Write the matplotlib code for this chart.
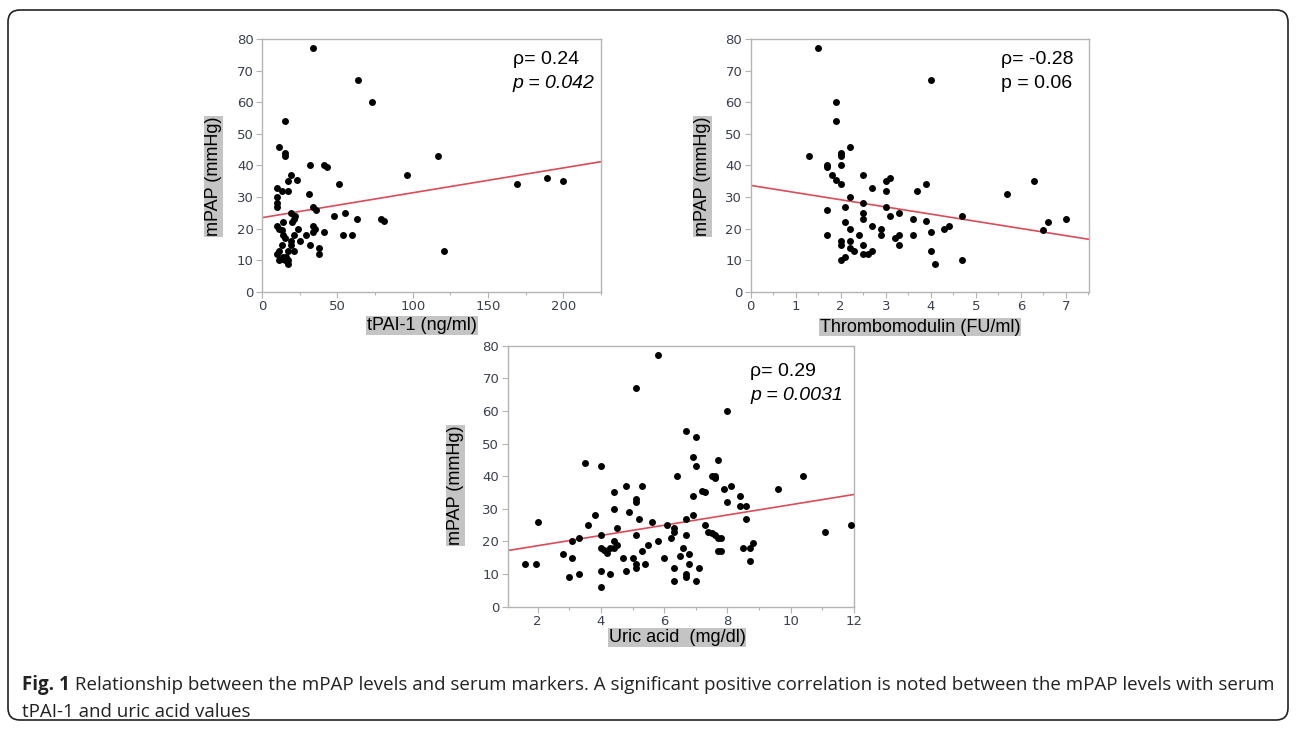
import numpy as np
import matplotlib
matplotlib.use('Agg')
import matplotlib.pyplot as plt
from matplotlib.patches import FancyBboxPatch
from matplotlib.ticker import MultipleLocator

# ---- Data ----

tpai_x = [34, 64, 73, 15, 11, 15, 15, 32, 41, 43, 19, 17, 23, 10, 13, 17, 10, 10, 10,
          31, 34, 36, 19, 22, 21, 20, 14, 10, 11, 13, 14, 15, 21, 24, 19, 19, 25, 29,
          34, 35, 34, 41, 32, 38, 38, 13, 17, 21, 10, 11, 11, 14, 15, 17, 17, 13, 16,
          48, 51, 55, 54, 60, 63, 79, 81, 96, 117, 121, 169, 189, 200]
tpai_y = [77, 67, 60, 54, 46, 44, 43, 40, 40, 39.5, 37, 35, 35.5, 33, 32, 32, 30, 28, 27,
          31, 27, 26, 25, 24, 23, 22, 22, 21, 20, 19.5, 18, 17, 18, 20, 16, 15, 16, 18,
          21, 20, 19, 19, 15, 14, 12, 15, 13, 13, 12, 13, 10, 11, 10, 10, 9, 10.5, 11,
          24, 34, 25, 18, 18, 23, 23, 22.5, 37, 43, 13, 34, 36, 35]

tm_x = [1.5, 4.0, 1.9, 1.9, 2.2, 1.3, 2.0, 2.0, 2.0, 1.7, 1.7, 2.0, 1.8, 1.9, 2.0, 1.7,
        1.7, 2.2, 2.1, 2.1, 2.2, 2.0, 2.0, 2.2, 2.2, 2.3, 2.0, 2.1, 2.5, 2.5, 2.5, 2.5,
        2.4, 2.5, 2.5, 2.6, 2.7, 2.7, 2.7, 2.9, 2.9, 3.0, 3.1, 3.0, 3.0, 3.1, 3.2, 3.3,
        3.3, 3.3, 3.6, 3.6, 3.7, 3.9, 3.9, 4.0, 4.0, 4.1, 4.3, 4.4, 4.7, 4.7, 5.7, 6.3,
        6.5, 6.6, 7.0]
tm_y = [77, 67, 60, 54, 46, 43, 44, 43.5, 43, 40, 39.5, 40, 37, 35.5, 34, 26,
        18, 30, 27, 22, 20, 16, 15, 16, 14, 13, 10, 11, 37, 28, 25, 23,
        18, 15, 12, 12, 13, 33, 21, 20, 18, 35, 36, 32, 27, 24, 17, 25,
        18, 15, 23, 18, 32, 34, 22.5, 19, 13, 9, 20, 21, 24, 10, 31, 35,
        19.5, 22, 23]

ua_x = [1.6, 1.95, 2.0, 2.8, 3.0, 3.1, 3.1, 3.3, 3.3, 3.5, 3.6, 3.8, 4.0, 4.0, 4.0, 4.1,
        4.2, 4.0, 4.0, 4.3, 4.4, 4.4, 4.4, 4.5, 4.3, 4.4, 4.5, 4.7, 4.8, 4.9, 4.8, 5.0,
        5.1, 5.1, 5.1, 5.1, 5.1, 5.1, 5.2, 5.3, 5.3, 5.4, 5.5, 5.6, 5.8, 5.8, 6.0, 6.1,
        6.2, 6.3, 6.3, 6.3, 6.3, 6.4, 6.5, 6.6, 6.7, 6.7, 6.7, 6.7, 6.7, 6.8, 6.8, 6.9,
        6.9, 6.9, 7.0, 7.0, 7.0, 7.1, 7.2, 7.3, 7.3, 7.4, 7.5, 7.5, 7.6, 7.6, 7.6, 7.7,
        7.8, 7.7, 7.8, 7.7, 7.9, 8.0, 8.0, 8.1, 8.4, 8.4, 8.5, 8.6, 8.6, 8.7, 8.8, 8.7,
        9.6, 10.4, 11.1, 11.9]
ua_y = [13, 13.2, 26, 16, 9, 20, 15, 21, 10, 44, 25, 28, 43, 22, 18, 17.4,
        16.3, 11, 6, 10, 35, 30, 20, 19, 18, 18, 24, 15, 37, 29, 11, 15,
        67, 33, 32, 22, 13, 12, 27, 37, 17, 13, 19, 26, 77, 20, 15, 25,
        21, 24, 23, 12, 8, 40, 15.5, 18, 54, 27, 22, 10, 9, 16, 13, 46,
        34, 28, 52, 43, 8, 12, 35.5, 35, 25, 23, 22.5, 40, 40, 39.5, 22, 21,
        21, 17, 17, 45, 36, 60, 32, 37, 34, 31, 18, 31, 27, 18, 19.5, 14,
        36, 40, 23, 25]

# fitted lines as drawn in the figure (intercept, slope)
tpai_fit = (23.5, 0.0787)
tm_fit = (33.7, -2.27)
ua_fit = (15.55, 1.57)

panels = [
    dict(x=tpai_x, y=tpai_y, fit=tpai_fit, xlabel='tPAI-1 (ng/ml)',
         rho='ρ= 0.24', pval='p = 0.042', pstyle='italic',
         rect=[0.2022, 0.5995, 0.2616, 0.347], xlim=(0, 225),
         xmajor=50, xminor=25, xlab_pos=(0.472, -0.099), ylab_pos=(-0.118, 0.456),
         txt_x=0.74, txt_y=(0.917, 0.826)),
    dict(x=tm_x, y=tm_y, fit=tm_fit, xlabel='Thrombomodulin (FU/ml)',
         rho='ρ= -0.28', pval='p = 0.06', pstyle='normal',
         rect=[0.5792, 0.5995, 0.2613, 0.347], xlim=(0, 7.52),
         xmajor=1, xminor=0.5, xlab_pos=(0.5, -0.105), ylab_pos=(-0.118, 0.456),
         txt_x=0.739, txt_y=(0.917, 0.826)),
    dict(x=ua_x, y=ua_y, fit=ua_fit, xlabel='Uric acid  (mg/dl)',
         rho='ρ= 0.29', pval='p = 0.0031', pstyle='italic',
         rect=[0.3917, 0.1678, 0.2672, 0.358], xlim=(1.05, 12),
         xmajor=2, xminor=1, xlab_pos=(0.489, -0.087), ylab_pos=(-0.125, 0.464),
         txt_x=0.70, txt_y=(0.90, 0.811)),
]

plt.rcParams['font.family'] = ['Liberation Sans', 'DejaVu Sans']

fig = plt.figure(figsize=(12.96, 7.29), dpi=100)

# rounded frame around the whole figure
bg = fig.add_axes([0, 0, 1, 1])
bg.set_xlim(0, 1296)
bg.set_ylim(729, 0)
bg.axis('off')
bg.add_patch(FancyBboxPatch((8, 10), 1280, 710,
                            boxstyle='round,pad=0,rounding_size=12',
                            facecolor='white', edgecolor='#222222', linewidth=1.2))

spine_col = '#b4b4b4'
tick_col = '#3a4050'
label_box = dict(facecolor='#c4c4c4', edgecolor='none', pad=0.6)

for p in panels:
    ax = fig.add_axes(p['rect'])
    ax.scatter(p['x'], p['y'], s=25, color='black', zorder=3, linewidths=0)
    xs = np.array(p['xlim'])
    ax.plot(xs, p['fit'][0] + p['fit'][1] * xs, color='#dc4b58', linewidth=1.2, zorder=2)

    ax.set_xlim(*p['xlim'])
    ax.set_ylim(0, 80)
    ax.xaxis.set_major_locator(MultipleLocator(p['xmajor']))
    ax.xaxis.set_minor_locator(MultipleLocator(p['xminor']))
    ax.yaxis.set_major_locator(MultipleLocator(10))
    for s in ax.spines.values():
        s.set_color(spine_col)
        s.set_linewidth(1.0)
    ax.tick_params(which='major', direction='out', length=4, width=0.8,
                   color=spine_col, labelcolor=tick_col, labelsize=9.5, pad=2,
                   labelfontfamily='DejaVu Sans')
    ax.tick_params(which='minor', direction='out', length=2.5, width=0.8, color=spine_col)

    ax.set_ylabel('mPAP (mmHg)', fontsize=13, bbox=label_box)
    ax.yaxis.set_label_coords(*p['ylab_pos'])
    ax.set_xlabel(p['xlabel'], fontsize=13, bbox=label_box)
    ax.xaxis.set_label_coords(*p['xlab_pos'])

    ax.text(p['txt_x'], p['txt_y'][0], p['rho'], transform=ax.transAxes,
            fontsize=14, ha='left', va='center')
    ax.text(p['txt_x'], p['txt_y'][1], p['pval'], transform=ax.transAxes,
            fontsize=14, ha='left', va='center', style=p['pstyle'])

# caption
cap_font = ['Open Sans', 'DejaVu Sans']
cap1 = bg.text(22, 685, 'Fig. 1', fontsize=13.5, fontweight='bold', color='#222222',
               ha='left', va='center', family=cap_font)
bg.annotate(' Relationship between the mPAP levels and serum markers. A significant positive '
            'correlation is noted between the mPAP levels with serum',
            xy=(1, 0.5), xycoords=cap1, ha='left', va='center',
            fontsize=13.5, color='#222222', family=cap_font)
bg.text(22, 712, 'tPAI-1 and uric acid values', fontsize=13.5, color='#222222',
        ha='left', va='center', family=cap_font)

plt.savefig('out.png', dpi=100)
